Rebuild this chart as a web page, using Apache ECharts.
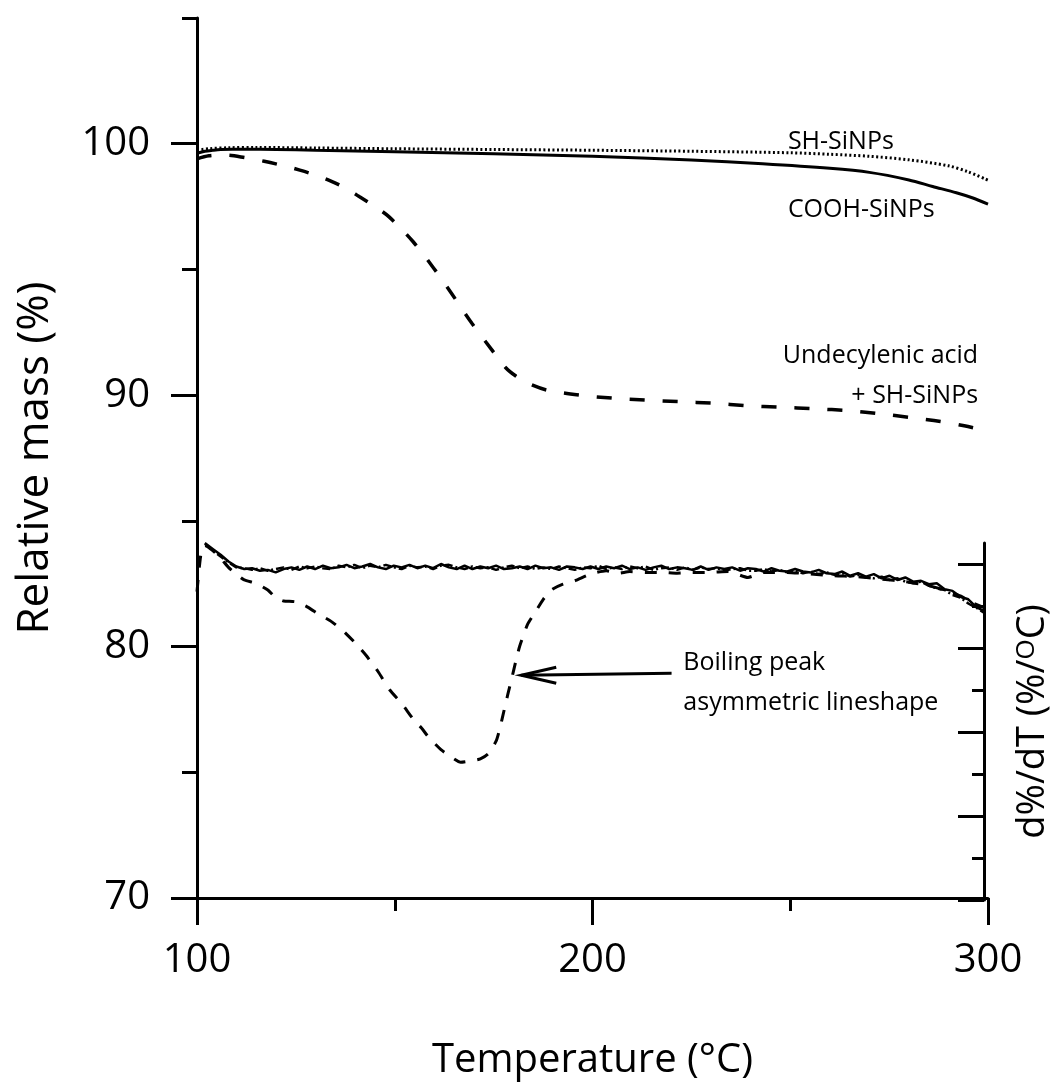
<!DOCTYPE html>
<html>
<head>
<meta charset="utf-8">
<script src="https://cdn.jsdelivr.net/npm/echarts@6/dist/echarts.min.js"></script>
<style>
  html, body { margin: 0; padding: 0; background: #ffffff; }
  #chart { width: 1060px; height: 1086px; }
</style>
</head>
<body>
<div id="chart"></div>
<script>
// ---- Thermogravimetric curves: relative mass (%) vs temperature (°C) ----
const coohTgTemp = [100, 102, 104, 106, 109, 112, 120, 130, 150, 175, 200, 225, 243, 260, 270, 280, 286, 292, 296, 300];
const coohTgMass = [99.62, 99.70, 99.74, 99.77, 99.78, 99.78, 99.77, 99.74, 99.68, 99.60, 99.50, 99.35, 99.20, 99.02, 98.86, 98.56, 98.30, 98.05, 97.85, 97.60];

const shTgTemp = [100, 103, 108, 115, 130, 150, 175, 200, 225, 250, 260, 270, 280, 290, 295, 300];
const shTgMass = [99.74, 99.80, 99.84, 99.85, 99.83, 99.80, 99.77, 99.74, 99.70, 99.64, 99.58, 99.50, 99.36, 99.12, 98.88, 98.55];

const undecTgTemp = [100, 103, 107, 112, 117, 122, 126, 130, 134, 138, 141, 145, 148.5, 154.6, 159.9, 164.5, 169.5, 174.6, 178, 180.7,
                     184, 188.5, 196.8, 205, 213.5, 222, 230.5, 239, 247.5, 256, 265, 273, 280, 288, 294, 300];
const undecTgMass = [99.40, 99.52, 99.55, 99.45, 99.30, 99.12, 98.95, 98.75, 98.50, 98.20, 97.90, 97.50, 97.10, 96.11, 95.04, 94.01, 92.86, 91.79, 91.10, 90.75,
                     90.45, 90.20, 90.00, 89.88, 89.80, 89.74, 89.68, 89.58, 89.52, 89.46, 89.38, 89.25, 89.12, 88.95, 88.78, 88.57];

// ---- Derivative curves: d%/dT (%/°C) vs temperature (°C) ----
const dtgTemp = [
  102, 104, 106, 108, 110, 112, 114, 116, 118, 120,
  122, 124, 126, 128, 130, 132, 134, 136, 138, 140,
  142, 144, 146, 148, 150, 152, 154, 156, 158, 160,
  162, 164, 166, 168, 170, 172, 174, 176, 178, 180,
  182, 184, 186, 188, 190, 192, 194, 196, 198, 200,
  202, 204, 206, 208, 210, 212, 214, 216, 218, 220,
  222, 224, 226, 228, 230, 232, 234, 236, 238, 240,
  242, 244, 246, 248, 250, 252, 254, 256, 258, 260,
  262, 264, 266, 268, 270, 272, 274, 276, 278, 280,
  282, 284, 286, 288, 290, 292, 294, 296, 298, 300
];
const coohDtg = [
  0.025, 0.018, 0.011, 0.003, -0.003, -0.006, -0.005, -0.008, -0.007, -0.010,
  -0.006, -0.004, -0.007, -0.003, -0.006, -0.002, -0.005, -0.004, -0.001, -0.005,
  -0.003, 0.000, -0.004, -0.006, -0.002, -0.004, -0.001, -0.005, -0.002, -0.005,
  0.000, -0.004, -0.006, -0.002, -0.006, -0.003, -0.005, -0.002, -0.006, -0.005,
  -0.003, -0.006, -0.002, -0.005, -0.004, -0.007, -0.003, -0.004, -0.006, -0.003,
  -0.006, -0.003, -0.005, -0.002, -0.006, -0.004, -0.007, -0.004, -0.002, -0.006,
  -0.004, -0.005, -0.007, -0.003, -0.007, -0.004, -0.006, -0.004, -0.008, -0.005,
  -0.006, -0.009, -0.005, -0.008, -0.009, -0.006, -0.009, -0.010, -0.007, -0.011,
  -0.012, -0.009, -0.014, -0.011, -0.015, -0.012, -0.017, -0.014, -0.019, -0.016,
  -0.021, -0.020, -0.024, -0.023, -0.030, -0.032, -0.039, -0.042, -0.051, -0.056
];
const shDtg = [
  0.024, 0.016, 0.009, 0.002, -0.004, -0.005, -0.007, -0.005, -0.008, -0.006,
  -0.004, -0.007, -0.003, -0.005, -0.003, -0.005, -0.006, -0.002, -0.004, -0.001,
  -0.005, -0.002, -0.004, -0.001, -0.004, -0.006, -0.002, -0.004, -0.003, -0.006,
  -0.002, -0.001, -0.004, -0.006, -0.003, -0.005, -0.004, -0.007, -0.004, -0.002,
  -0.005, -0.003, -0.006, -0.004, -0.006, -0.003, -0.005, -0.007, -0.004, -0.005,
  -0.002, -0.006, -0.004, -0.006, -0.003, -0.005, -0.003, -0.007, -0.005, -0.004,
  -0.007, -0.004, -0.007, -0.004, -0.006, -0.005, -0.008, -0.006, -0.005, -0.008,
  -0.008, -0.006, -0.009, -0.007, -0.010, -0.008, -0.011, -0.009, -0.012, -0.010,
  -0.013, -0.011, -0.015, -0.013, -0.016, -0.017, -0.015, -0.019, -0.017, -0.021,
  -0.023, -0.021, -0.026, -0.029, -0.031, -0.037, -0.040, -0.047, -0.052, -0.058
];
const undecDtgTemp = [100, 101, 102, 104, 106, 108, 110, 112, 115, 118, 120, 122, 125, 128, 131, 134, 137, 140, 143, 146,
                      149, 152, 155, 157, 159, 162, 165, 167, 170, 172, 174, 176, 177, 178, 179, 180, 181, 182, 184, 186,
                      188, 190, 193, 196, 200, 204, 207, 210, 214, 218, 222, 226, 230, 235, 240, 244, 250, 256, 262, 268,
                      274, 280, 286, 290, 294, 297, 300];
const undecDtg = [-0.033, 0.012, 0.022, 0.016, 0.007, -0.004, -0.012, -0.019, -0.023, -0.031, -0.040, -0.044, -0.045, -0.051, -0.060, -0.068, -0.079, -0.093, -0.109, -0.128,
                  -0.150, -0.166, -0.185, -0.195, -0.207, -0.221, -0.231, -0.236, -0.234, -0.232, -0.226, -0.211, -0.195, -0.175, -0.155, -0.136, -0.116, -0.098, -0.072, -0.057,
                  -0.042, -0.031, -0.024, -0.020, -0.012, -0.008, -0.011, -0.009, -0.010, -0.010, -0.011, -0.010, -0.010, -0.009, -0.016, -0.010, -0.010, -0.012, -0.014, -0.015,
                  -0.018, -0.021, -0.026, -0.031, -0.038, -0.046, -0.052];

// ---- Axis ticks ----
const tempTicks = [100, 200, 300];
const massMajorTicks = [70, 80, 90, 100];
const massMinorTicks = [75, 85, 95, 105];
const dtgMajorTicks = [-0.4, -0.3, -0.2, -0.1, 0];
const dtgMinorTicks = [-0.35, -0.25, -0.15, -0.05];

const FONT = "'Open Sans', 'Noto Sans', sans-serif";
const INK = '#000000';

const zip = (xs, ys) => xs.map((x, i) => [x, ys[i]]);

const chart = echarts.init(document.getElementById('chart'), null, { renderer: 'canvas' });

const axisLine = { show: true, onZero: false, lineStyle: { color: INK, width: 3 } };

const option = {
  animation: false,
  backgroundColor: '#ffffff',
  grid: [
    { left: 197, right: 72, top: 18, bottom: 186 },
    { left: 197, right: 72, top: 543, bottom: 186 }
  ],
  xAxis: [
    {
      type: 'value', gridIndex: 0, min: 100, max: 300, interval: 100,
      name: 'Temperature (°C)', nameLocation: 'middle', nameGap: 143,
      nameTextStyle: { fontFamily: FONT, fontSize: 40, color: INK },
      axisLine: axisLine,
      axisTick: { show: true, length: 27, lineStyle: { color: INK, width: 3 } },
      minorTick: { show: true, splitNumber: 2, length: 13, lineStyle: { color: INK, width: 3 } },
      axisLabel: { margin: 43, fontFamily: FONT, fontSize: 40, color: INK, customValues: tempTicks },
      splitLine: { show: false }
    },
    {
      type: 'value', gridIndex: 1, min: 100, max: 300, show: false
    }
  ],
  yAxis: [
    {
      type: 'value', gridIndex: 0, position: 'left', min: 70, max: 105,
      name: 'Relative mass (%)', nameLocation: 'middle', nameGap: 140,
      nameTextStyle: { fontFamily: FONT, fontSize: 44, color: INK },
      axisLine: axisLine,
      axisTick: { show: true, length: 26, lineStyle: { color: INK, width: 3 }, customValues: massMajorTicks },
      axisLabel: { margin: 47, fontFamily: FONT, fontSize: 40, color: INK, customValues: massMajorTicks },
      splitLine: { show: false }
    },
    {
      type: 'value', gridIndex: 0, position: 'left', min: 70, max: 105,
      axisLine: { show: false },
      axisTick: { show: true, length: 15, lineStyle: { color: INK, width: 3 }, customValues: massMinorTicks },
      axisLabel: { show: false },
      splitLine: { show: false }
    },
    {
      type: 'value', gridIndex: 1, position: 'right', min: -0.4, max: 0.025,
      name: 'd%/dT (%/{s|O}C)', nameLocation: 'middle', nameGap: 30,
      nameTextStyle: {
        fontFamily: FONT, fontSize: 38, color: INK,
        rich: { s: { fontFamily: FONT, fontSize: 26, color: INK, verticalAlign: 'top', lineHeight: 20 } }
      },
      axisLine: axisLine,
      axisTick: { show: true, inside: true, length: 26, lineStyle: { color: INK, width: 3 }, customValues: dtgMajorTicks },
      axisLabel: { show: false },
      splitLine: { show: false }
    },
    {
      type: 'value', gridIndex: 1, position: 'right', min: -0.4, max: 0.025,
      axisLine: { show: false },
      axisTick: { show: true, inside: true, length: 12, lineStyle: { color: INK, width: 3 }, customValues: dtgMinorTicks },
      axisLabel: { show: false },
      splitLine: { show: false }
    }
  ],
  series: [
    {
      name: 'COOH-SiNPs', type: 'line', xAxisIndex: 0, yAxisIndex: 0,
      data: zip(coohTgTemp, coohTgMass), showSymbol: false, smooth: 0.3,
      lineStyle: { color: INK, width: 3, type: 'solid' }
    },
    {
      name: 'SH-SiNPs', type: 'line', xAxisIndex: 0, yAxisIndex: 0,
      data: zip(shTgTemp, shTgMass), showSymbol: false, smooth: 0.3,
      lineStyle: { color: INK, width: 3, type: [2, 2.5] }
    },
    {
      name: 'Undecylenic acid + SH-SiNPs', type: 'line', xAxisIndex: 0, yAxisIndex: 0,
      data: zip(undecTgTemp, undecTgMass), showSymbol: false, smooth: 0.3,
      lineStyle: { color: INK, width: 3.5, type: [15, 18] }
    },
    {
      name: 'COOH-SiNPs DTG', type: 'line', xAxisIndex: 1, yAxisIndex: 2,
      data: zip(dtgTemp, coohDtg), showSymbol: false,
      lineStyle: { color: INK, width: 2.5, type: 'solid' }
    },
    {
      name: 'SH-SiNPs DTG', type: 'line', xAxisIndex: 1, yAxisIndex: 2,
      data: zip(dtgTemp, shDtg), showSymbol: false,
      lineStyle: { color: INK, width: 2.5, type: [8, 3, 2, 3] }
    },
    {
      name: 'Undecylenic acid + SH-SiNPs DTG', type: 'line', xAxisIndex: 1, yAxisIndex: 2,
      data: zip(undecDtgTemp, undecDtg), showSymbol: false, smooth: 0.2,
      lineStyle: { color: INK, width: 3, type: [12, 12] }
    }
  ]
};

chart.setOption(option);

// Curve captions and the arrow pointing at the boiling peak, anchored in data space
const tgPx = (t, v) => chart.convertToPixel({ gridIndex: 0 }, [t, v]);
const dtgPx = (t, v) => chart.convertToPixel({ gridIndex: 1 }, [t, v]);

const textStyle = (extra) => Object.assign({ fontFamily: FONT, fontSize: 25, fill: INK, lineHeight: 40 }, extra);

const shPos = tgPx(249.4, 100.08);
const coohPos = tgPx(249.4, 97.38);
const undecPos = tgPx(297.5, 90.75);
const boilPos = dtgPx(223.6, -0.1417);
const arrowTail = dtgPx(220.6, -0.130);
const arrowTip = dtgPx(182.4, -0.1325);
const armX = arrowTip[0] + 35;

chart.setOption({
  graphic: [
    { type: 'text', x: shPos[0], y: shPos[1], style: textStyle({ text: 'SH-SiNPs', align: 'left', verticalAlign: 'middle' }) },
    { type: 'text', x: coohPos[0], y: coohPos[1], style: textStyle({ text: 'COOH-SiNPs', align: 'left', verticalAlign: 'middle' }) },
    { type: 'text', x: undecPos[0], y: undecPos[1], style: textStyle({ text: 'Undecylenic acid\n+ SH-SiNPs', align: 'right', verticalAlign: 'middle' }) },
    { type: 'text', x: boilPos[0], y: boilPos[1], style: textStyle({ text: 'Boiling peak\nasymmetric lineshape', align: 'left', verticalAlign: 'middle' }) },
    {
      type: 'line',
      shape: { x1: arrowTail[0], y1: arrowTail[1], x2: arrowTip[0], y2: arrowTip[1] },
      style: { stroke: INK, lineWidth: 3 }
    },
    {
      type: 'polyline',
      shape: { points: [[armX, arrowTip[1] - 8], [arrowTip[0], arrowTip[1]], [armX, arrowTip[1] + 8]] },
      style: { stroke: INK, lineWidth: 3, fill: null }
    }
  ]
});
</script>
</body>
</html>
